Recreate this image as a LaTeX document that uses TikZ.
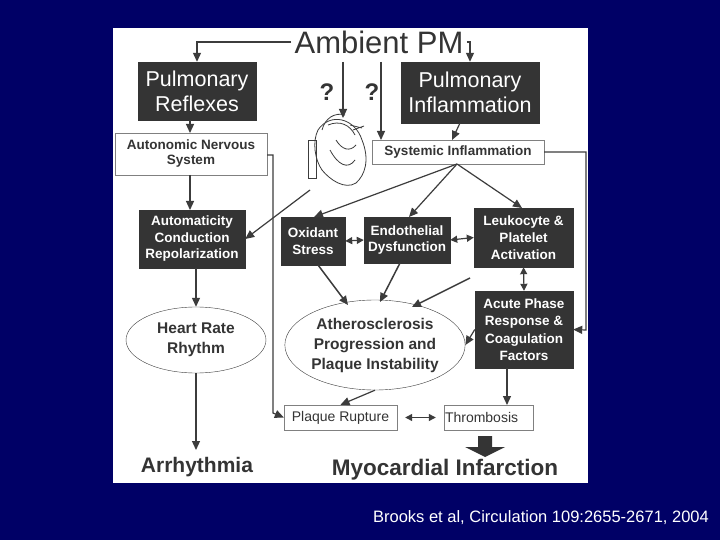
\documentclass[tikz,border=0pt]{standalone}
\usepackage{fontspec}
\setmainfont{Liberation Sans}
\usetikzlibrary{arrows.meta,shapes.geometric,calc}
\definecolor{navy}{RGB}{0,0,102}
\definecolor{dk}{RGB}{52,52,52}
\definecolor{ln}{RGB}{60,60,60}
\begin{document}
\begin{tikzpicture}[x=1pt,y=-1pt,
 dbox/.style={fill=dk,draw=dk,text=white,align=center,inner sep=0pt},
 wbox/.style={fill=white,draw=gray,align=center,inner sep=0pt,font=\bfseries\fontsize{13.5}{15}\selectfont,text=dk},
 ar/.style={draw=ln,line width=1.2pt,-{Triangle[length=9pt,width=8pt]}},
 dar/.style={draw=ln,line width=1.2pt,{Triangle[length=7pt,width=7pt]}-{Triangle[length=7pt,width=7pt]}},
 ln/.style={draw=ln,line width=1pt}]
\useasboundingbox (0,0) rectangle (720,540);
\fill[navy] (0,0) rectangle (720,540);
\fill[white] (113,28) rectangle (588,483);
\node (amb) at (379,42) {\color{dk}\fontsize{31}{34}\selectfont Ambient PM};
\node[dbox,minimum width=118,minimum height=58,font=\fontsize{21.5}{25}\selectfont] (pr) at (197,91) {Pulmonary\\Reflexes};
\node[dbox,minimum width=138,minimum height=61,font=\fontsize{21.5}{25}\selectfont] (pi) at (470,92.5) {Pulmonary\\Inflammation};
\node[wbox,minimum width=152,minimum height=42] (ans) at (191,154) {Autonomic Nervous\\System};
\node[wbox,minimum width=172,minimum height=24] (si) at (458,152) {Systemic Inflammation};
\node[dbox,minimum width=106,minimum height=58,font=\bfseries\fontsize{13.5}{16.5}\selectfont] (au) at (192,239) {Automaticity\\Conduction\\Repolarization};
\node[dbox,minimum width=64,minimum height=48,font=\bfseries\fontsize{13.5}{16.5}\selectfont] (ox) at (313,241) {Oxidant\\Stress};
\node[dbox,minimum width=86,minimum height=46,font=\bfseries\fontsize{13.5}{16.5}\selectfont] (en) at (407,240) {Endothelial\\Dysfunction};
\node[dbox,minimum width=99,minimum height=59,font=\bfseries\fontsize{13.5}{17}\selectfont] (le) at (523.5,237.5) {Leukocyte \&\\Platelet\\Activation};
\node[dbox,minimum width=98,minimum height=77,font=\bfseries\fontsize{13.5}{17.5}\selectfont] (ac) at (524,329.5) {Acute Phase\\Response \&\\Coagulation\\Factors};
\node[ellipse,draw=ln,minimum width=170,minimum height=90,inner sep=0pt,align=center,text=dk,font=\bfseries\fontsize{15.5}{20}\selectfont] (at) at (375,345) {Atherosclerosis\\Progression and\\Plaque Instability};
\node[ellipse,draw=ln,minimum width=140,minimum height=66,inner sep=0pt,align=center,text=dk,font=\bfseries\fontsize{15.5}{20}\selectfont] (hr) at (196,340) {Heart Rate\\Rhythm};
\node[draw=gray,minimum width=113,minimum height=25,inner sep=0pt,text=dk,font=\fontsize{14}{16}\selectfont] (pl) at (340.5,417.5) {Plaque Rupture};
\node[draw=gray,minimum width=89,minimum height=25,inner sep=0pt,text=dk,font=\fontsize{14}{16}\selectfont,text width=87,align=left] (th) at (488.5,417.5) {Thrombosis};
\node[text=dk,font=\bfseries\fontsize{21}{24}\selectfont] (arr) at (197,467) {Arrhythmia};
\node[text=dk,font=\bfseries\fontsize{22.5}{25}\selectfont] (mi) at (445,470) {Myocardial Infarction};
\node[text=white,font=\fontsize{16.5}{18}\selectfont] (cit) at (541,518) {Brooks et al, Circulation 109:2655-2671, 2004};
\node[text=dk,font=\bfseries\fontsize{24}{26}\selectfont] (q1) at (327,92) {?};
\node[text=dk,font=\bfseries\fontsize{24}{26}\selectfont] (q2) at (372,92) {?};
% heart sketch
\begin{scope}[draw=ln,line width=0.8pt]
\draw (318,130) .. controls (330,112) and (355,118) .. (362,140) .. controls (370,160) and (365,175) .. (356,183) .. controls (345,190) and (330,180) .. (322,170) .. controls (315,160) and (312,142) .. (318,130);
\draw (308,140) rectangle (316,178);
\draw (322,130) .. controls (325,118) and (335,112) .. (345,115);
\draw (328,125) .. controls (340,120) and (350,125) .. (355,135);
\draw (330,150) .. controls (338,165) and (348,170) .. (355,160);
\draw (336,140) .. controls (342,150) and (350,152) .. (356,145);
\draw (350,125) -- (362,128) (353,130) -- (364,126);
\end{scope}
% connectors
\coordinate (a1) at (197,42); \coordinate (a2) at (470,42);
\draw[ar] (amb.west) -- (a1) -- (pr.north);
\draw[ar] (amb.east) -- (a2) -- (pi.north);
\draw[ar] (343,62) -- (343,118);
\draw[ar] (381,62) -- (381,140);
\draw[ar] (190,120) -- (190,133);
\draw[ar] (460,123) -- (452,140);
\draw[ar] (si.east) -- (586,152) -- (586,330) -- (ac.east);
\draw[ar] (267,155) -- (273,155) -- (273,413) -- (pl.west);
\draw[ar] (190,175) -- (190,210);
\draw[ar] (310,190) -- (au.east);
\coordinate (sb) at (457,164);
\draw[ar] (sb) -- (314,217);
\draw[ar] (sb) -- (409,217);
\draw[ar] (sb) -- (522,208);
\draw[dar] (ox.east) -- (en.west);
\draw[dar] (en.east) -- (le.west);
\draw[dar] (le.south) -- (ac.north);
\draw[ar,line width=1.5pt] (318,265) -- (348,305);
\draw[ar,line width=1.5pt] (400,263) -- (380,302);
\draw[ar,line width=1.5pt] (470,278) -- (412,307);
\draw[ar] (ac.west) -- (at.east);
\draw[ar] (at.south) -- (pl.north);
\draw[dar] ($(pl.east)+(8,0)$) -- ($(th.west)+(-8,0)$);
\draw[ar] (507,368) -- (507,405);
\draw[ar] (196,268) -- (hr.north);
\draw[ar] (hr.south) -- (196,450);
\fill[dk] (478,436) -- (492,436) -- (492,447) -- (505,447) -- (485,457) -- (465,447) -- (478,447) -- cycle;
\end{tikzpicture}
\end{document}
